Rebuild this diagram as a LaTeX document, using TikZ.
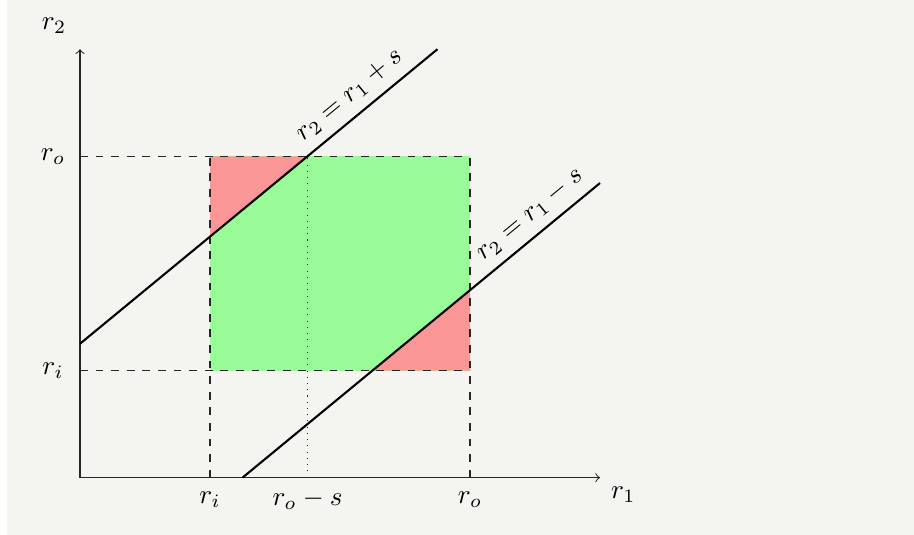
\documentclass[tikz,border=0pt]{standalone}
\definecolor{bgcol}{RGB}{244,244,240}
\definecolor{regred}{RGB}{250,150,150}
\definecolor{reggreen}{RGB}{152,251,152}
\begin{document}
\begin{tikzpicture}[x=50pt,y=41.2pt,
  axisline/.style={->, line width=0.4pt, black!85},
  guide/.style={dashed, line width=0.4pt, black!85},
  midguide/.style={dotted, line width=0.4pt, black!85},
  bound/.style={line width=0.8pt, black},
  every node/.style={scale=1.04}]
\useasboundingbox (-0.61538,-0.5317) rectangle (6.41538,4.459);
\fill[bgcol] (-0.5615,-0.5317) rectangle (6.41538,4.459);
% named points
\coordinate (O) at (0,0);
\coordinate (X) at (4,0);
\coordinate (Y) at (0,4);
\coordinate (ii) at (1,1);
\coordinate (io) at (1,3);
\coordinate (oi) at (3,1);
\coordinate (oo) at (3,3);
\coordinate (iax) at (1,0);
\coordinate (oax) at (3,0);
\coordinate (mid) at (1.75,0);
\coordinate (midtop) at (1.75,3);
\coordinate (yo) at (0,3);
\coordinate (yi) at (0,1);
\coordinate (ua) at (0,1.25);
\coordinate (ub) at (2.75,4);
\coordinate (la) at (1.25,0);
\coordinate (lb) at (4,2.75);
\coordinate (uleft) at (1,2.25);
\coordinate (lright) at (3,1.75);
\coordinate (lbot) at (2.25,1);
% regions
\fill[reggreen] (ii) rectangle (oo);
\fill[regred] (uleft) -- (io) -- (midtop) -- cycle;
\fill[regred] (lbot) -- (oi) -- (lright) -- cycle;
% guides
\draw[guide] (yo) -- (oo);
\draw[guide] (yi) -- (oi);
\draw[guide] (iax) -- (io);
\draw[guide] (oax) -- (oo);
\draw[midguide] (mid) -- (midtop);
% axes
\draw[axisline] (O) -- (X);
\draw[axisline] (O) -- (Y);
% boundary lines
\draw[bound] (ua) -- node[sloped, above, pos=0.79] {$r_2 = r_1 + s$} (ub);
\draw[bound] (la) -- node[sloped, above, pos=0.84] {$r_2 = r_1 - s$} (lb);
% labels
\node (lr2) at (-0.2,4.216) {$r_2$};
\node (lr1) at (4.18,-0.16) {$r_1$};
\node (lro) at (-0.208,3) {$r_o$};
\node (lri) at (-0.208,1) {$r_i$};
\node (bri) at (1,-0.205) {$r_i$};
\node (bmid) at (1.75,-0.205) {$r_o - s$};
\node (bro) at (3,-0.205) {$r_o$};
\end{tikzpicture}
\end{document}
